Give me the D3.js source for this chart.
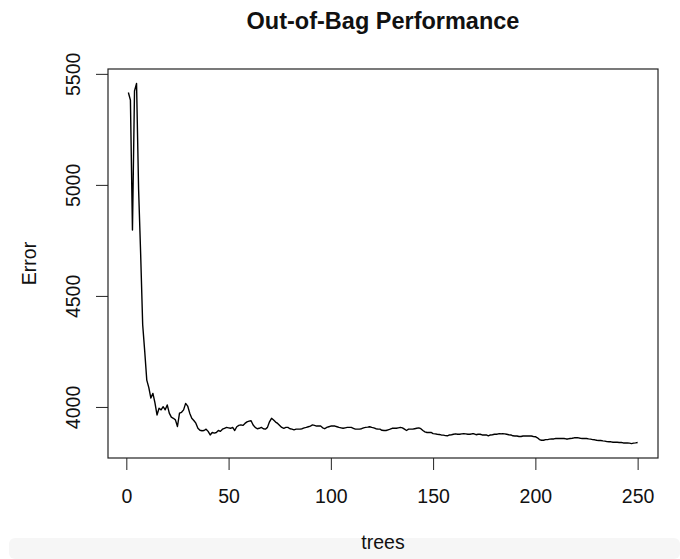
<!DOCTYPE html>
<html>
<head>
<meta charset="utf-8">
<script src="https://cdn.jsdelivr.net/npm/d3@7"></script>
<style>
  html, body { margin: 0; padding: 0; background: #fff; }
  svg { display: block; }
  text { font-family: "Liberation Sans", Arial, Helvetica, sans-serif; fill: #111; }
</style>
</head>
<body>
<svg id="chart" width="680" height="559"></svg>
<script>
// ---- data ----
const errors = [
  5416, 5382, 4797, 5423, 5457, 4980, 4690, 4370, 4250, 4121,
  4087, 4040, 4061, 4018, 3964, 3994, 3987, 4001, 3987, 4009,
  3972, 3954, 3949, 3942, 3912, 3972, 3976, 3987, 4016, 4004,
  3972, 3949, 3939, 3927, 3904, 3895, 3893, 3894, 3900, 3890,
  3874, 3885, 3882, 3885, 3894, 3890, 3900, 3904, 3908, 3906,
  3904, 3908, 3894, 3911, 3917, 3919, 3917, 3926, 3933, 3936,
  3938, 3919, 3908, 3902, 3904, 3908, 3902, 3900, 3908, 3933,
  3949, 3941, 3932, 3926, 3917, 3908, 3904, 3908, 3908, 3902,
  3900, 3897, 3900, 3900, 3900, 3902, 3906, 3908, 3911, 3914,
  3919, 3917, 3914, 3914, 3914, 3906, 3902, 3908, 3911, 3914,
  3914, 3914, 3911, 3908, 3906, 3904, 3906, 3908, 3908, 3908,
  3904, 3900, 3900, 3900, 3902, 3906, 3908, 3909, 3911, 3908,
  3906, 3902, 3900, 3900, 3895, 3894, 3894, 3897, 3900, 3904,
  3904, 3904, 3906, 3908, 3906, 3900, 3894, 3900, 3900, 3900,
  3902, 3904, 3906, 3902, 3894, 3888, 3885, 3885, 3885, 3880,
  3879, 3877, 3876, 3874, 3873, 3871, 3870, 3874, 3875, 3877,
  3879, 3877, 3877, 3879, 3880, 3879, 3877, 3877, 3879, 3879,
  3875, 3877, 3877, 3874, 3874, 3874, 3870, 3874, 3875, 3877,
  3877, 3879, 3879, 3880, 3879, 3877, 3875, 3874, 3870, 3869,
  3869, 3867, 3867, 3869, 3869, 3869, 3869, 3869, 3867, 3866,
  3861, 3853, 3850, 3850, 3853, 3853, 3855, 3856, 3856, 3858,
  3858, 3858, 3858, 3858, 3856, 3856, 3858, 3859, 3861, 3861,
  3861, 3859, 3858, 3858, 3858, 3856, 3855, 3853, 3852, 3850,
  3849, 3849, 3847, 3846, 3844, 3843, 3843, 3841, 3841, 3841,
  3840, 3840, 3838, 3838, 3838, 3837, 3835, 3837, 3838, 3840
];
const trees = errors.map((_, i) => i + 1);
const xTicks = [0, 50, 100, 150, 200, 250];
const yTicks = [4000, 4500, 5000, 5500];
const titleText = "Out-of-Bag Performance";
const xLabel = "trees";
const yLabel = "Error";

// ---- layout ----
const box = { left: 108, right: 658, top: 69, bottom: 458 };
const svg = d3.select("#chart");

// screenshot background band at the bottom
svg.append("rect").attr("x", 9).attr("y", 538).attr("width", 671).attr("height", 21)
  .attr("rx", 6).attr("fill", "#f6f6f6");

// R-style 4% axis extension
function rExtend([a, b]) { const d = (b - a) * 0.04; return [a - d, b + d]; }
const x = d3.scaleLinear().domain(rExtend(d3.extent(trees))).range([box.left, box.right]);
const y = d3.scaleLinear().domain(rExtend(d3.extent(errors))).range([box.bottom, box.top]);

// axes
const xAxis = d3.axisBottom(x).tickValues(xTicks).tickSize(12).tickSizeOuter(0).tickPadding(19);
const gx = svg.append("g").attr("transform", `translate(0,${box.bottom})`).call(xAxis);
gx.select(".domain").remove();
gx.selectAll("line").attr("stroke", "#222");
gx.selectAll("text").style("font-size", "19.5px").attr("fill", "#111");

const yAxis = d3.axisLeft(y).tickValues(yTicks).tickSize(12).tickSizeOuter(0).tickFormat(d3.format("d"));
const gy = svg.append("g").attr("transform", `translate(${box.left},0)`).call(yAxis);
gy.select(".domain").remove();
gy.selectAll("line").attr("stroke", "#222");
gy.selectAll("text")
  .style("font-size", "19.5px").attr("fill", "#111")
  .attr("x", null).attr("dy", null)
  .attr("text-anchor", "middle")
  .attr("transform", "translate(-28,0) rotate(-90)");

// line
const line = d3.line().x((d, i) => x(trees[i])).y(d => y(d));
svg.append("path").datum(errors)
  .attr("d", line).attr("fill", "none")
  .attr("stroke", "#000").attr("stroke-width", 1.4).attr("stroke-linejoin", "round");

// box
svg.append("rect")
  .attr("x", box.left).attr("y", box.top)
  .attr("width", box.right - box.left).attr("height", box.bottom - box.top)
  .attr("fill", "none").attr("stroke", "#222").attr("stroke-width", 1.2);

// title & labels
svg.append("text").attr("x", (box.left + box.right) / 2).attr("y", 29)
  .attr("text-anchor", "middle").style("font-size", "23.5px").style("font-weight", "bold")
  .text(titleText);
svg.append("text").attr("x", (box.left + box.right) / 2).attr("y", 549)
  .attr("text-anchor", "middle").style("font-size", "19.5px").text(xLabel);
svg.append("text")
  .attr("transform", `translate(36,${(box.top + box.bottom) / 2}) rotate(-90)`)
  .attr("text-anchor", "middle").style("font-size", "19.5px").text(yLabel);
</script>
</body>
</html>
